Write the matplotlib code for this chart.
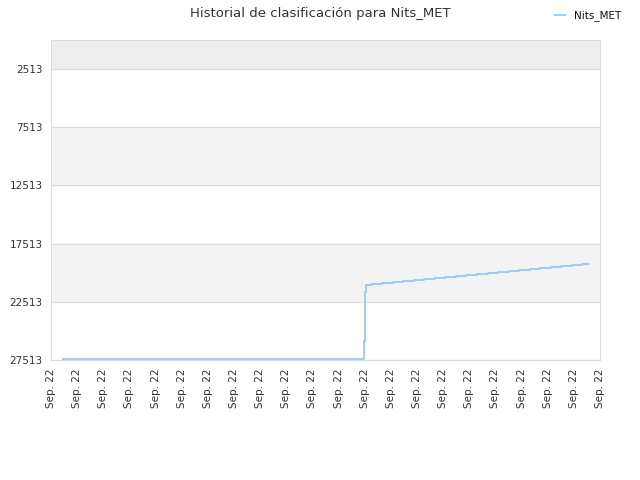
import matplotlib
matplotlib.use("Agg")
import matplotlib.pyplot as plt

# rank history (x in tick units, y = rank)
days = [0.46, 11.97, 11.99, 12.01, 12.05, 12.27, 12.65, 13.07, 13.48, 13.89, 14.28,
        14.69, 15.07, 15.49, 15.88, 16.29, 16.71, 17.11, 17.52, 17.92, 18.33,
        18.71, 19.12, 19.51, 19.92, 20.33, 20.53]
ranks = [27470, 27470, 25870, 21710, 21046, 20960, 20870, 20785, 20700, 20610, 20525,
         20440, 20350, 20265, 20180, 20090, 20005, 19920, 19830, 19745, 19660,
         19570, 19485, 19400, 19310, 19225, 19225]
tick_labels = ["Sep. 22"] * 22
y_ticks = [2513, 7513, 12513, 17513, 22513, 27513]

fig = plt.figure(figsize=(6.4, 4.8), dpi=100)
ax = fig.add_axes([51 / 640, 1 - 360 / 480, 549 / 640, 320 / 480])

# alternating bands
ax.axhspan(13, 2513, color="#eeeeee", zorder=0)
ax.axhspan(7513, 12513, color="#f3f3f3", zorder=0)
ax.axhspan(17513, 22513, color="#f3f3f3", zorder=0)
for yv in y_ticks:
    ax.axhline(yv, color="#dddddd", lw=0.9, zorder=1)

ax.plot(days, ranks, drawstyle="steps-post", color="#9ecaf5", lw=1.4,
        label="Nits_MET", zorder=3)

ax.set_xlim(0, 21)
ax.set_ylim(27513, 13)
ax.set_yticks(y_ticks)
ax.set_yticklabels([str(v) for v in y_ticks])
ax.set_xticks(range(22))
ax.set_xticklabels(tick_labels, rotation=90)
ax.tick_params(length=0, labelsize=7.5, colors="#333333", pad=6)
for s in ax.spines.values():
    s.set_color("#dddddd")

fig.text(0.5, 1 - 13 / 480, "Historial de clasificación para Nits_MET",
         ha="center", va="center", fontsize=9.5, color="#333333")
fig.legend(loc="center right", bbox_to_anchor=(0.985, 1 - 16 / 480), frameon=False,
           fontsize=7.5, handlelength=1.0, handletextpad=0.8, labelcolor="#111111")

fig.savefig("out.png", dpi=100)
